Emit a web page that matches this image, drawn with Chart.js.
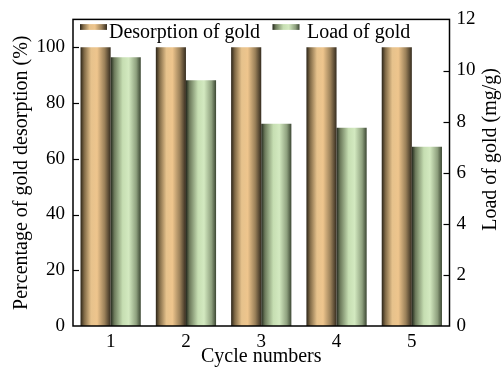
<!DOCTYPE html>
<html>
<head>
<meta charset="utf-8">
<script src="https://cdn.jsdelivr.net/npm/chart.js@4.4.1/dist/chart.umd.min.js"></script>
<style>
  html, body { margin: 0; padding: 0; background: #fff; }
  #wrap { width: 501px; height: 369px; }
</style>
</head>
<body>
<div id="wrap"><canvas id="goldChart"></canvas></div>
<script>
const cycles = ['1', '2', '3', '4', '5'];
const desorption = [100, 100, 100, 100, 100];   // %
const goldLoad = [10.52, 9.62, 7.92, 7.76, 7.02]; // mg/g
const rightTitle = 'Load of gold (mg/g)';

const serif = '"Liberation Serif", "Times New Roman", serif';

const goldStops = [[0, '#2a2317'], [0.12, '#7f6946'], [0.35, '#e6c28c'], [0.55, '#eec58d'], [0.8, '#9a8059'], [1, '#352c1f']];
const greenStops = [[0, '#23281c'], [0.12, '#6c7a5b'], [0.4, '#c6deb2'], [0.6, '#d3e9c0'], [0.85, '#8ea07e'], [1, '#3c4733']];

function makeGradient(c, x0, x1, stops) {
    const g = c.createLinearGradient(x0, 0, x1, 0);
    stops.forEach(s => g.addColorStop(s[0], s[1]));
    return g;
}

function barFill(stops, dsIndex) {
    return function (ctx) {
        const chart = ctx.chart;
        const xs = chart.scales.x;
        if (ctx.type !== 'data' || !chart.chartArea || !xs) return stops[3][1];
        const center = xs.getPixelForValue(ctx.dataIndex);
        const w = xs.width / cycles.length * 0.8 / 2;
        const left = center - w + dsIndex * w;
        return makeGradient(chart.ctx, left, left + w, stops);
    };
}

// frame, inward ticks, right title and legend
const framePlugin = {
    id: 'frame',
    afterDraw(chart) {
        const c = chart.ctx;
        const a = chart.chartArea;
        c.save();
        c.strokeStyle = '#000';
        c.lineWidth = 1.5;
        c.strokeRect(a.left, a.top, a.right - a.left, a.bottom - a.top);

        c.lineWidth = 1.2;
        const yl = chart.scales.y;
        yl.ticks.forEach(t => {
            if (t.value <= 0) return;
            const py = Math.round(yl.getPixelForValue(t.value)) + 0.5;
            c.beginPath(); c.moveTo(a.left, py); c.lineTo(a.left + 6, py); c.stroke();
        });
        const yr = chart.scales.y1;
        yr.ticks.forEach(t => {
            if (t.value <= 0 || t.value >= 12) return;
            const py = Math.round(yr.getPixelForValue(t.value)) + 0.5;
            c.beginPath(); c.moveTo(a.right - 6, py); c.lineTo(a.right, py); c.stroke();
        });

        c.font = '20px ' + serif;
        c.fillStyle = '#000';

        // right axis title, reading bottom to top
        c.save();
        c.translate(chart.width - 10, a.top + 130);
        c.rotate(-Math.PI / 2);
        c.textAlign = 'center';
        c.textBaseline = 'middle';
        c.fillText(rightTitle, 0, 0);
        c.restore();

        // legend
        const items = [
            { label: chart.data.datasets[0].label, stops: goldStops, x: a.left + 7 },
            { label: chart.data.datasets[1].label, stops: greenStops, x: a.left + 199.5 }
        ];
        c.textBaseline = 'alphabetic';
        items.forEach((it, i) => {
            c.fillStyle = makeGradient(c, it.x, it.x + 27, it.stops);
            c.fillRect(it.x, a.top + 4.7, 27, 5.8);
            c.fillStyle = '#000';
            c.fillText(it.label, it.x + 27 + (i === 0 ? 2 : 7.5), a.top + 18.5);
        });
        c.restore();
    }
};

new Chart(document.getElementById('goldChart'), {
    type: 'bar',
    data: {
        labels: cycles,
        datasets: [
            {
                label: 'Desorption of gold',
                data: desorption,
                yAxisID: 'y',
                backgroundColor: barFill(goldStops, 0),
                borderWidth: 0
            },
            {
                label: 'Load of gold',
                data: goldLoad,
                yAxisID: 'y1',
                backgroundColor: barFill(greenStops, 1),
                borderWidth: 0
            }
        ]
    },
    options: {
        responsive: true,
        maintainAspectRatio: false,
        animation: false,
        layout: { padding: { top: 18, left: 0, right: 0, bottom: 0 } },
        datasets: { bar: { categoryPercentage: 0.8, barPercentage: 1 } },
        plugins: {
            legend: { display: false },
            tooltip: { enabled: false }
        },
        scales: {
            x: {
                grid: { display: false, drawTicks: false },
                border: { display: false },
                ticks: { color: '#000', font: { family: serif, size: 19 }, padding: 5 },
                title: {
                    display: true, text: 'Cycle numbers', color: '#000',
                    font: { family: serif, size: 20, lineHeight: 1 }, padding: { top: 0, bottom: 2 }
                },
                afterFit(s) { s.height = 43; }
            },
            y: {
                position: 'left',
                min: 0, max: 110,
                grid: { display: false, drawTicks: false },
                border: { display: false },
                ticks: { stepSize: 20, includeBounds: false, color: '#000', font: { family: serif, size: 19 }, padding: 8 },
                title: {
                    display: true, text: 'Percentage of gold desorption (%)', color: '#000',
                    font: { family: serif, size: 20, lineHeight: 1 }, padding: { top: 12, bottom: 0 }
                },
                afterFit(s) { s.width = 73; }
            },
            y1: {
                position: 'right',
                min: 0, max: 12,
                grid: { display: false, drawTicks: false },
                border: { display: false },
                ticks: { stepSize: 2, color: '#000', font: { family: serif, size: 19 }, padding: 7 },
                afterFit(s) { s.width = 51.5; }
            }
        }
    },
    plugins: [framePlugin]
});
</script>
</body>
</html>
